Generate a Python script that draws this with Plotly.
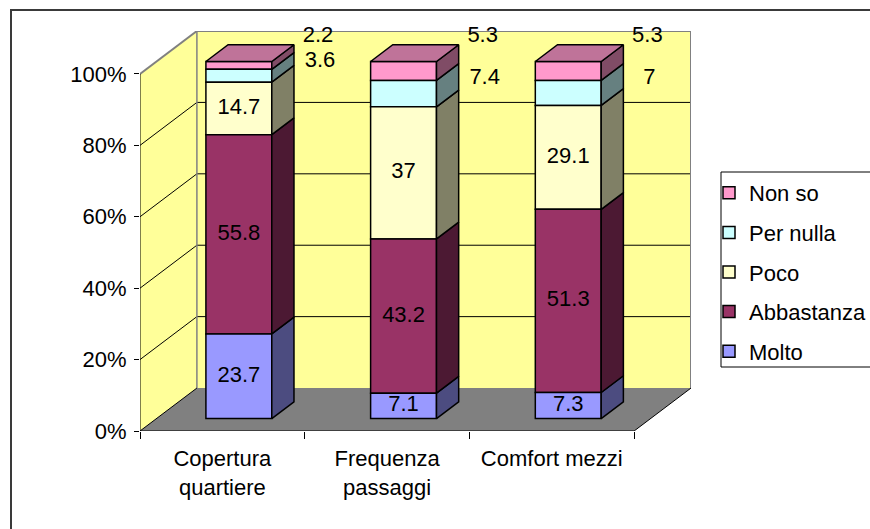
import plotly.graph_objects as go

# ---------------- data ----------------
categories = ["Copertura<br>quartiere", "Frequenza<br>passaggi", "Comfort mezzi"]
series_names = ["Molto", "Abbastanza", "Poco", "Per nulla", "Non so"]
molto = [23.7, 7.1, 7.3]
abbastanza = [55.8, 43.2, 51.3]
poco = [14.7, 37, 29.1]
per_nulla = [3.6, 7.4, 7]
non_so = [2.2, 5.3, 5.3]
y_tick_values = [0, 20, 40, 60, 80, 100]
y_tick_labels = ["0%", "20%", "40%", "60%", "80%", "100%"]

series_values = [molto, abbastanza, poco, per_nulla, non_so]

# ---------------- styles / geometry ----------------
front_colors = ["#9999FF", "#993366", "#FFFFCC", "#CCFFFF", "#FF99CC"]
side_colors = ["#4C4C80", "#4C1933", "#808066", "#668080", "#804C66"]
top_color = "#BF7399"
wall_color = "#FFFF99"
floor_color = "#808080"
edge_gray = "#808080"
FONT = "Liberation Sans, Arial, sans-serif"

DX = 0.3455      # floor depth in x units
DY = 12.03       # floor depth in % units
F0 = 0.29        # bar front depth fraction
F1 = 0.68        # bar back depth fraction
HW = 0.2         # bar half width
PX_X = 164.7     # px per x unit (for label offsets)
PX_Y = 3.5705    # px per % unit

n = len(categories)
xs = list(range(n))
XL, XR = -0.5, n - 0.5
bdx = (F1 - F0) * DX
bdy = (F1 - F0) * DY

fig = go.Figure()

# cumulative bottoms
bottoms = []
run = [0.0] * n
for vals in series_values:
    bottoms.append(run[:])
    run = [run[i] + vals[i] for i in range(n)]
totals = run

# front faces (added top series first so the legend lists "Non so" first)
for s in reversed(range(len(series_names))):
    name, vals = series_names[s], series_values[s]
    fig.add_trace(go.Bar(
        x=[i + F0 * DX for i in xs],
        y=vals,
        base=[bottoms[s][i] + F0 * DY for i in xs],
        width=2 * HW,
        name=name,
        legendgroup=name,
        marker=dict(color=front_colors[s], line=dict(color="black", width=1.5)),
        hoverinfo="skip",
    ))

# side faces
for s, (name, vals) in enumerate(zip(series_names, series_values)):
    px, py = [], []
    for i in xs:
        xr = i + F0 * DX + HW
        b = bottoms[s][i] + F0 * DY
        t = b + vals[i]
        px += [xr, xr + bdx, xr + bdx, xr, xr, None]
        py += [b, b + bdy, t + bdy, t, b, None]
    fig.add_trace(go.Scatter(
        x=px, y=py, mode="lines", fill="toself", fillcolor=side_colors[s],
        line=dict(color="black", width=1.5), showlegend=False,
        legendgroup=name, hoverinfo="skip"))

# top faces
px, py = [], []
for i in xs:
    xl = i + F0 * DX - HW
    xr = i + F0 * DX + HW
    T = totals[i] + F0 * DY
    px += [xl, xr, xr + bdx, xl + bdx, xl, None]
    py += [T, T, T + bdy, T + bdy, T, None]
fig.add_trace(go.Scatter(
    x=px, y=py, mode="lines", fill="toself", fillcolor=top_color,
    line=dict(color="black", width=1.5), showlegend=False, hoverinfo="skip"))

# labels
lab_x, lab_y, lab_t = [], [], []
for s, vals in enumerate(series_values):
    for i in xs:
        b = bottoms[s][i] + F0 * DY
        if s <= 2:
            lab_x.append(i + F0 * DX)
            lab_y.append(b + vals[i] / 2)
        elif s == 3:
            lab_x.append(i + F0 * DX + HW + bdx + 26 / PX_X)
            lab_y.append(b + vals[i] / 2 + bdy - 2 / PX_Y)
        else:
            lab_x.append(i + F0 * DX + HW + bdx + 24 / PX_X)
            lab_y.append(totals[i] + F0 * DY + bdy + 8 / PX_Y)
        lab_t.append(str(vals[i]))
fig.add_trace(go.Scatter(
    x=lab_x, y=lab_y, text=lab_t, mode="text", textposition="middle center",
    textfont=dict(family=FONT, size=22, color="black"), showlegend=False,
    hoverinfo="skip", cliponaxis=False))

# ---------------- walls, floor, grid ----------------
shapes = []
def poly(pts, fill, line_color=None, width=0):
    path = "M " + " L ".join(f"{x},{y}" for x, y in pts) + " Z"
    return dict(type="path", path=path, xref="x", yref="y", fillcolor=fill,
                line=dict(color=line_color or fill, width=width), layer="below")
def seg(x0, y0, x1, y1, color, width=1):
    return dict(type="line", x0=x0, y0=y0, x1=x1, y1=y1, xref="x", yref="y",
                line=dict(color=color, width=width), layer="below")

top = y_tick_values[-1]
shapes.append(poly([(XL + DX, DY), (XR + DX, DY), (XR + DX, top + DY), (XL + DX, top + DY)], wall_color))
shapes.append(poly([(XL, 0), (XL, top), (XL + DX, top + DY), (XL + DX, DY)], wall_color))
shapes.append(poly([(XL, 0), (XR, 0), (XR + DX, DY), (XL + DX, DY)], floor_color))
for v in y_tick_values[1:-1]:
    shapes.append(seg(XL + DX, v + DY, XR + DX, v + DY, "black", 1))
    shapes.append(seg(XL, v, XL + DX, v + DY, "black", 1))
shapes.append(seg(XL, top, XL + DX, top + DY, edge_gray, 2))
shapes.append(seg(XL + DX, top + DY, XR + DX, top + DY, edge_gray, 2))
shapes.append(seg(XR + DX, DY, XR + DX, top + DY, edge_gray, 2))
shapes.append(seg(XL + DX, DY, XL + DX, top + DY, edge_gray, 1.5))
shapes.append(seg(XL, 0, XR, 0, "black", 1))
shapes.append(seg(XR, 0, XR + DX, DY, "black", 1))
shapes.append(seg(XL, 0, XL + DX, DY, "black", 1))
shapes.append(seg(XL, 0, XL, top, "black", 1))

def px2paper_x(p):
    return (p - 140) / 551
def px2paper_y(p):
    return (431 - p) / 400

# legend frame
shapes.append(dict(type="rect", xref="paper", yref="paper",
                   x0=px2paper_x(721), x1=px2paper_x(885),
                   y0=px2paper_y(367), y1=px2paper_y(172),
                   line=dict(color="black", width=1), fillcolor="white",
                   layer="below"))
# outer chart border
shapes.append(dict(type="rect", xref="paper", yref="paper",
                   x0=px2paper_x(11), x1=px2paper_x(890),
                   y0=px2paper_y(560), y1=px2paper_y(10),
                   line=dict(color="#3A3A3A", width=2), fillcolor="rgba(0,0,0,0)",
                   layer="above"))

fig.update_layout(
    width=870, height=529,
    margin=dict(l=140, r=179, t=31, b=98, autoexpand=False),
    paper_bgcolor="white", plot_bgcolor="white",
    barmode="overlay",
    shapes=shapes,
    font=dict(family=FONT, size=22, color="black"),
    showlegend=True,
    legend=dict(
        x=px2paper_x(709), xanchor="left",
        y=px2paper_y(172), yanchor="top",
        bgcolor="rgba(0,0,0,0)", borderwidth=0,
        font=dict(family=FONT, size=22, color="black"),
        traceorder="grouped", tracegroupgap=8,
        itemwidth=30,
    ),
    xaxis=dict(
        range=[XL, XR + DX], tickvals=xs, ticktext=categories,
        showgrid=False, zeroline=False, showline=False, ticks="",
        ticklabelstandoff=12,
        minor=dict(tickvals=[XL + k for k in range(n + 1)], ticks="outside",
                   ticklen=7, tickcolor="black", tickwidth=1, showgrid=False),
        fixedrange=True,
    ),
    yaxis=dict(
        range=[0, top + DY], tickvals=y_tick_values, ticktext=y_tick_labels,
        showgrid=False, zeroline=False, showline=False,
        ticks="outside", ticklen=5, tickcolor="black", tickwidth=1,
        ticklabelstandoff=3, fixedrange=True,
    ),
)

fig.write_html("out.html")
